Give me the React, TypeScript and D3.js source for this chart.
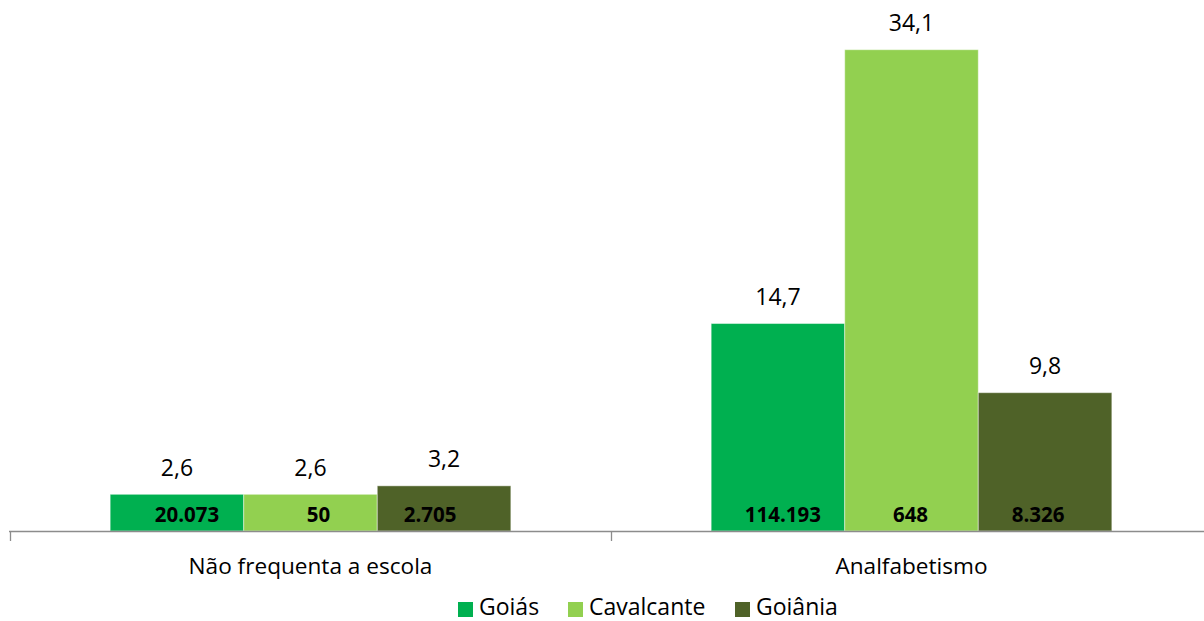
import React from 'react';
import * as d3 from 'd3';

const categories = ['Não frequenta a escola', 'Analfabetismo'];
const seriesNames = ['Goiás', 'Cavalcante', 'Goiânia'];
const seriesColors = ['#00B050', '#92D050', '#4F6228'];
// percentuais (rótulo acima da barra)
const goias = [2.6, 14.7];
const cavalcante = [2.6, 34.1];
const goiania = [3.2, 9.8];
// números absolutos (rótulo dentro da barra)
const goiasAbs = ['20.073', '114.193'];
const cavalcanteAbs = ['50', '648'];
const goianiaAbs = ['2.705', '8.326'];

const values = [goias, cavalcante, goiania];
const absLabels = [goiasAbs, cavalcanteAbs, goianiaAbs];

// small manual nudges of the inside labels, as in the original
const insideNudge = [
  [10, 8, -14],
  [5, -1, -7],
];

const W = 1204;
const H = 621;
const FONT = '"Open Sans", "Noto Sans", sans-serif';

const App: React.FC = () => {
  const x = d3.scaleBand<string>().domain(categories).range([10, 1212]).paddingInner(0).paddingOuter(0);
  const xs = d3.scaleBand<string>().domain(seriesNames).range([0, x.bandwidth()]).paddingInner(0).paddingOuter(0.75);
  const y = d3.scaleLinear().domain([0, 35]).range([531, 37]);

  const fmt = (v: number) => d3.format('.1f')(v).replace('.', ',');

  return (
    <svg width={W} height={H} style={{ position: 'absolute', left: 0, top: 0 }} fontFamily={FONT}>
      <rect width={W} height={H} fill="#ffffff" />
      {categories.map((c, ci) => (
        <g key={c} transform={`translate(${x(c)},0)`}>
          {seriesNames.map((s, si) => {
            const v = values[si][ci];
            const bx = xs(s)!;
            const cx = bx + xs.bandwidth() / 2;
            return (
              <g key={s}>
                <rect
                  x={bx}
                  y={y(v)}
                  width={xs.bandwidth()}
                  height={y(0) - y(v)}
                  fill={seriesColors[si]}
                  stroke="#ffffff"
                  strokeOpacity={0.45}
                  strokeWidth={1}
                />
                <text x={cx} y={y(v) - 18.5} textAnchor="middle" fontSize={23} fill="#000">
                  {fmt(v)}
                </text>
                <text
                  x={cx + insideNudge[ci][si]}
                  y={y(0) - 9.5}
                  textAnchor="middle"
                  fontSize={20.5}
                  fontWeight="bold"
                  fill="#000"
                >
                  {absLabels[si][ci]}
                </text>
              </g>
            );
          })}
          <text x={x.bandwidth() / 2} y={574} textAnchor="middle" fontSize={22.6} fill="#000">
            {c}
          </text>
        </g>
      ))}
      {/* eixo x */}
      <line x1={9} x2={W} y1={531.5} y2={531.5} stroke="#8c8c8c" strokeWidth={1.3} />
      {[...categories.map((c) => x(c)!), 1212].map((t, i) => (
        <line key={i} x1={t + 0.5} x2={t + 0.5} y1={531} y2={541} stroke="#8c8c8c" strokeWidth={1.3} />
      ))}
      {/* legenda */}
      <g>
        {seriesNames.map((s, i) => {
          const lx = [458, 568, 735][i];
          return (
            <g key={s}>
              <rect x={lx} y={602} width={15} height={15} fill={seriesColors[i]} />
              <text x={lx + 21} y={615} fontSize={23} fill="#000">
                {s}
              </text>
            </g>
          );
        })}
      </g>
    </svg>
  );
};

export default App;
